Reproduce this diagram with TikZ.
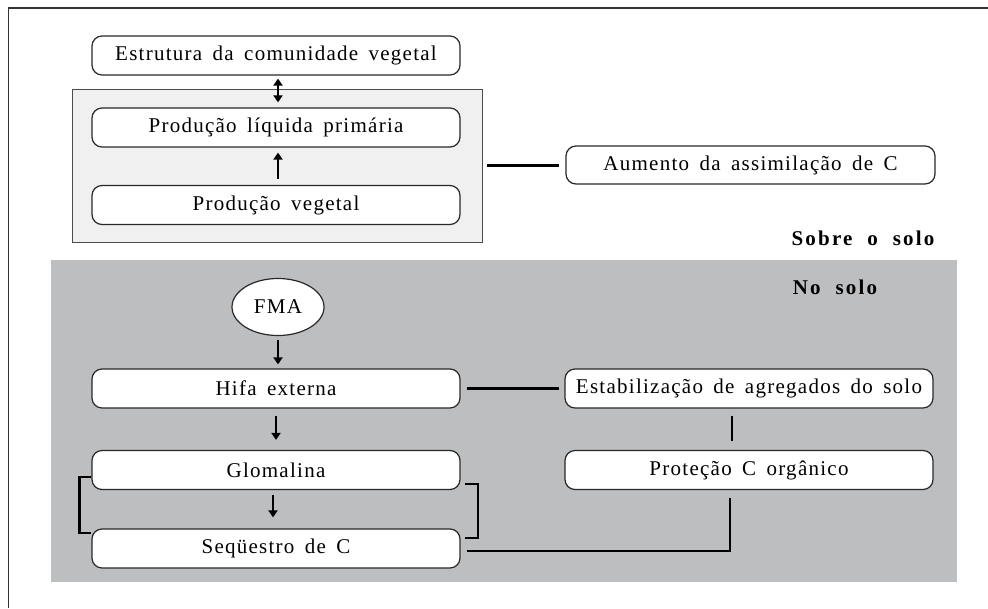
\documentclass[tikz,border=0pt]{standalone}
\usepackage{fontspec}
\setmainfont{Liberation Serif}[LetterSpace=6, WordSpace=1.6]
\newfontfamily\lblfont{Liberation Serif}[LetterSpace=10.5, WordSpace=2]
\usetikzlibrary{arrows.meta,calc,shapes.geometric}
\definecolor{soilgray}{RGB}{189,190,192}
\definecolor{uppergray}{RGB}{240,240,240}
\definecolor{edge}{RGB}{40,40,40}
\begin{document}
\begin{tikzpicture}[x=1pt,y=-1pt,
  txt/.style={font=\fontsize{21}{24}\selectfont},
  box/.style={txt, draw=edge, line width=1.2pt, rounded corners=10pt, fill=white,
    minimum width=368pt, minimum height=39pt, inner sep=0pt},
  oval/.style={txt, draw=edge, line width=1.2pt, ellipse, fill=white,
    minimum width=92pt, minimum height=57pt, inner sep=0pt},
  ln/.style={line width=2.2pt, black},
  arr/.style={line width=2.2pt, -{Triangle[length=7pt,width=9pt]}},
  darr/.style={line width=2.2pt, {Triangle[length=7pt,width=9pt]}-{Triangle[length=7pt,width=9pt]}},
  lbl/.style={font=\lblfont\fontsize{21}{24}\selectfont\bfseries}]
\fill[white] (0,0) rectangle (988,608);
\useasboundingbox (0,0) rectangle (988,608);
% outer frame (top and left only)
\draw[line width=1.6pt, black!80] (988,8) -- (8.5,8) -- (8.5,608);
% soil region
\fill[soilgray] (51,260) rectangle (957,582);
% upper light panel
\node[draw=black!70, fill=uppergray, line width=0.9pt, minimum width=410pt, minimum height=153pt, inner sep=0pt] (upper) at (277,165.5) {};
% nodes
\node[box] (est) at (276,55.5) {Estrutura da comunidade vegetal};
\node[box] (plp) at (276,127.5) {Produção líquida primária};
\node[box] (pv) at (276,205) {Produção vegetal};
\node[box, minimum width=369pt, minimum height=38pt] (aum) at (750.5,165) {Aumento da assimilação de C};
\node[lbl] (sobre) at (863,238) {Sobre o solo};
\node[lbl] (nosolo) at (835,287) {No solo};
\node[oval] (fma) at (278,307) {FMA};
\node[box] (hifa) at (276,388.5) {Hifa externa};
\node[box] (glom) at (276,470) {Glomalina};
\node[box] (seq) at (276,548.5) {Seqüestro de C};
\node[box] (estab) at (749,388.5) {Estabilização de agregados do solo};
\node[box] (prot) at (749,470) {Proteção C orgânico};
% arrows
\draw[darr, shorten <=3pt, shorten >=5pt] ([xshift=2pt]est.south) -- ([xshift=2pt]plp.north);
\draw[arr, shorten <=6pt, shorten >=5pt] ([xshift=2pt]pv.north) -- ([xshift=2pt]plp.south);
\draw[arr, shorten <=3.5pt, shorten >=4pt] (fma.south) -- (fma.south |- hifa.north);
\draw[arr, shorten <=7pt, shorten >=10pt] (hifa.south) -- (glom.north);
\draw[arr, shorten <=5pt, shorten >=11pt] ([xshift=-3pt]glom.south) -- ([xshift=-3pt]seq.north);
% lines
\draw[ln, shorten <=5pt, shorten >=6pt] (upper.east) -- (upper.east -| aum.west);
\draw[ln, shorten <=6pt, shorten >=5pt] (hifa.east) -- (estab.west);
\draw[ln, shorten <=7pt, shorten >=9pt] ([xshift=-17pt]estab.south) -- ([xshift=-17pt]prot.north);
\draw[ln] ([xshift=6pt,yshift=-2.5pt]seq.east) -| ([xshift=-19pt,yshift=-8pt]prot.south);
\draw[ln] ([yshift=-7pt]glom.west) -- ++(-12,0) |- ([yshift=15.5pt]seq.west);
\draw[ln] ([xshift=4pt,yshift=-14pt]glom.east) -- ++(13,0) |- ([xshift=4pt,yshift=10.5pt]seq.east);
\end{tikzpicture}
\end{document}
